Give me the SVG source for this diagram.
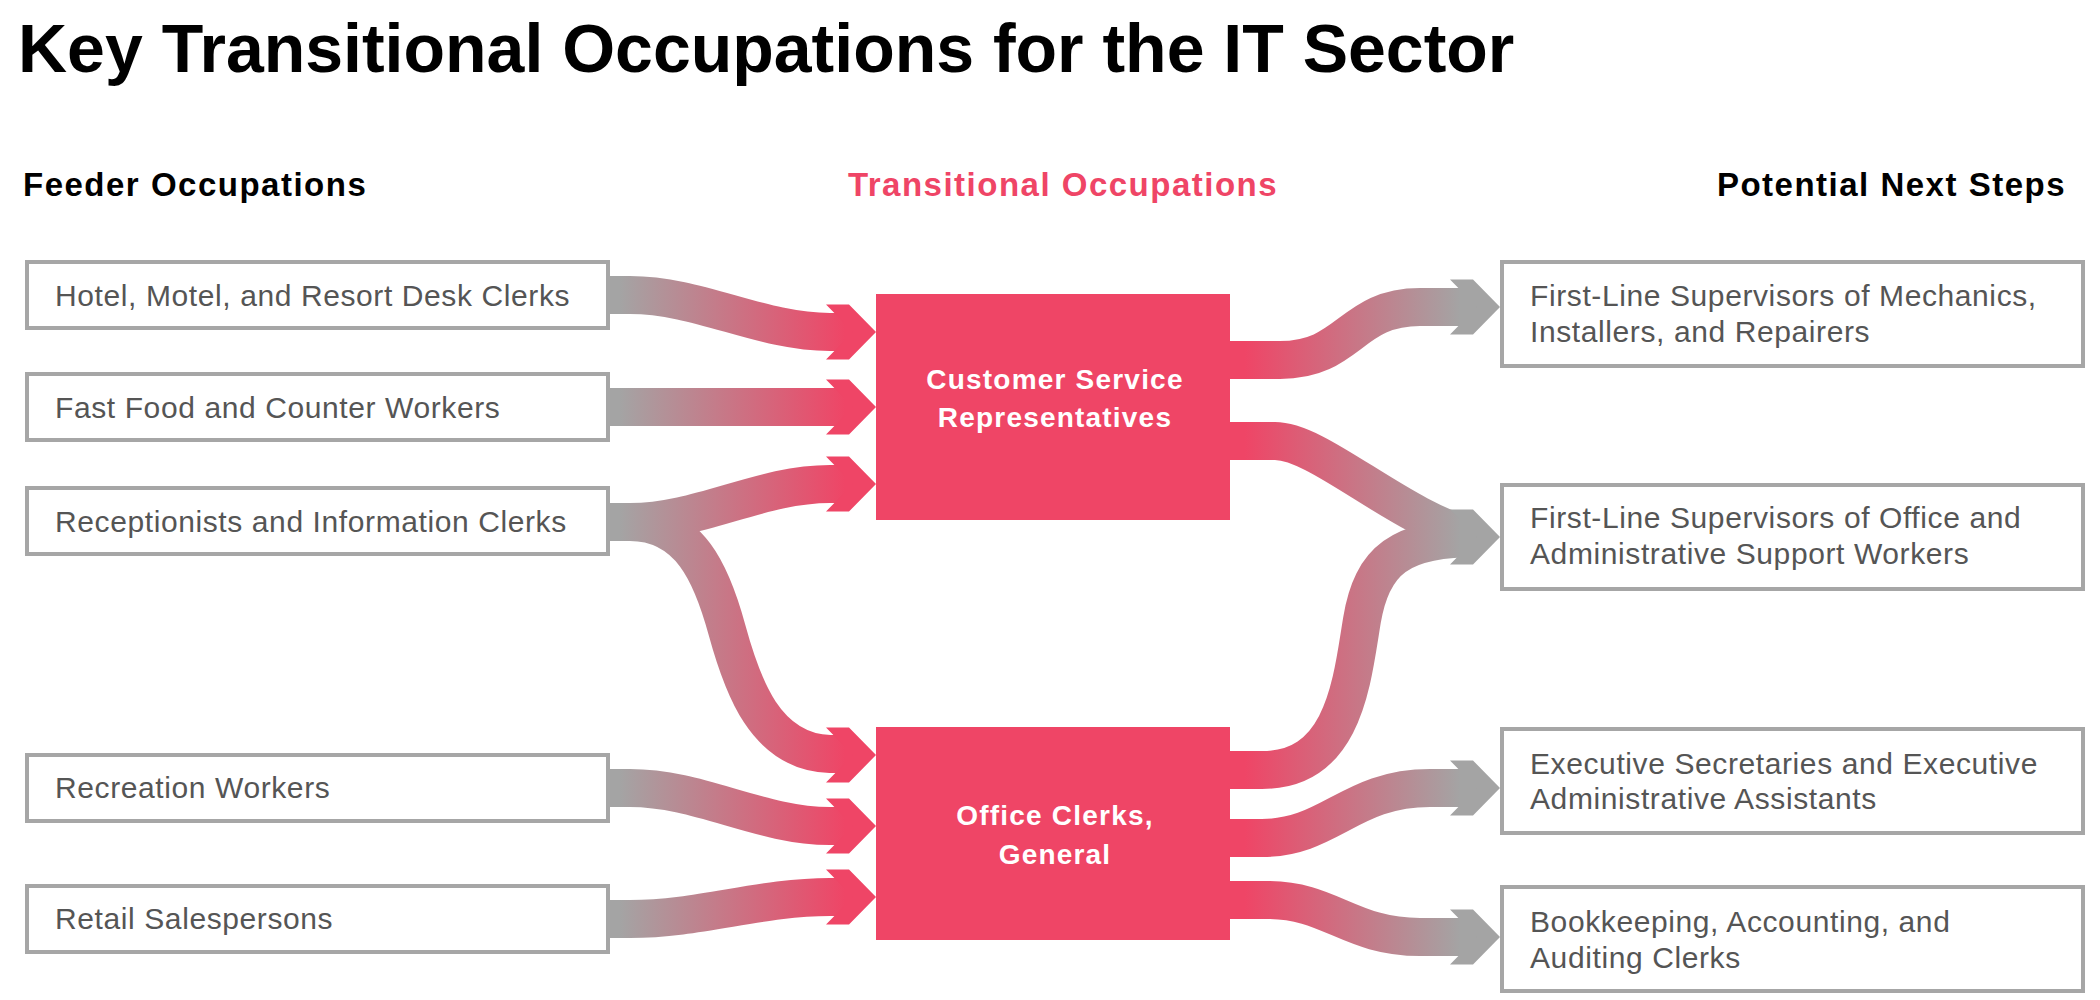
<svg xmlns="http://www.w3.org/2000/svg" width="2100" height="1000" viewBox="0 0 2100 1000">
  <style>
    .title{font-family:"Liberation Sans",Arial,sans-serif;font-weight:700;font-size:68px;fill:#000}
    .hdr{font-family:"Liberation Sans",Arial,sans-serif;font-weight:700;font-size:33px;letter-spacing:1.5px;fill:#000}
    .hdr-red{fill:#ef4566}
    .box{fill:#fff;stroke:#a6a6a6;stroke-width:4}
    .lbl{font-family:"Liberation Sans",Arial,sans-serif;font-size:30px;letter-spacing:0.6px;fill:#555}
    .core{fill:#ef4566}
    .core-lbl{font-family:"Liberation Sans",Arial,sans-serif;font-weight:700;font-size:28px;letter-spacing:1.2px;fill:#fff;text-anchor:middle}
    .band{fill:none;stroke-width:38;stroke-linecap:butt}
    .in{stroke:url(#gIn)}
    .out{stroke:url(#gOut)}
    .head-in{fill:#ef4566}
    .head-out{fill:#a4a4a4}
  </style>
  <defs>
    <linearGradient id="gIn" gradientUnits="userSpaceOnUse" x1="620" y1="0" x2="845" y2="0">
      <stop offset="0" stop-color="#a4a4a4"/>
      <stop offset="1" stop-color="#ef4566"/>
    </linearGradient>
    <linearGradient id="gOut" gradientUnits="userSpaceOnUse" x1="1245" y1="0" x2="1460" y2="0">
      <stop offset="0" stop-color="#ef4566"/>
      <stop offset="1" stop-color="#a4a4a4"/>
    </linearGradient>
    <path id="head" d="M-50,-27.5 H-27 L0,0 L-27,27.5 H-50 L-23,0 Z"/>
  </defs>

  <rect width="2100" height="1000" fill="#fff"/>

  <text class="title" x="18" y="72">Key Transitional Occupations for the IT Sector</text>

  <text class="hdr" x="23" y="196">Feeder Occupations</text>
  <text class="hdr hdr-red" x="1063" y="196" text-anchor="middle">Transitional Occupations</text>
  <text class="hdr" x="2066" y="196" text-anchor="end">Potential Next Steps</text>

  <g id="connectors">
    <path class="band in" d="M600,295 H630 C700,295 760,332 830,332 H854"/>
    <path class="band in" d="M600,407 H854"/>
    <path class="band in" d="M600,522 H630 C700,522 760,484 830,484 H854"/>
    <path class="band in" d="M600,522 H630 C690,522 712,575 727,630 C742,685 765,752 830,754 H854"/>
    <path class="band in" d="M600,788 H630 C700,788 760,826 830,826 H854"/>
    <path class="band in" d="M600,919 H630 C700,919 760,897 830,897 H854"/>
    <use href="#head" class="head-in" transform="translate(876,332)"/>
    <use href="#head" class="head-in" transform="translate(876,407)"/>
    <use href="#head" class="head-in" transform="translate(876,484)"/>
    <use href="#head" class="head-in" transform="translate(876,755)"/>
    <use href="#head" class="head-in" transform="translate(876,826)"/>
    <use href="#head" class="head-in" transform="translate(876,897)"/>

    <path class="band out" d="M1220,360 H1280 C1350,360 1350,307 1420,307 H1478"/>
    <path class="band out" d="M1220,441 H1275 C1320,441 1400,520 1478,539"/>
    <path class="band out" d="M1220,770 H1262 C1345,770 1352,680 1362,620 C1372,560 1400,538 1478,538"/>
    <path class="band out" d="M1220,838 H1262 C1330,838 1350,788 1430,788 H1478"/>
    <path class="band out" d="M1220,900 H1268 C1330,900 1350,937 1420,937 H1478"/>
    <use href="#head" class="head-out" transform="translate(1500,307)"/>
    <use href="#head" class="head-out" transform="translate(1500,537)"/>
    <use href="#head" class="head-out" transform="translate(1500,788)"/>
    <use href="#head" class="head-out" transform="translate(1500,937)"/>
  </g>

  <g id="feeder-hotel">
    <rect class="box" x="27" y="262" width="581" height="66"/>
    <text class="lbl" x="55" y="306">Hotel, Motel, and Resort Desk Clerks</text>
  </g>
  <g id="feeder-fastfood">
    <rect class="box" x="27" y="374" width="581" height="66"/>
    <text class="lbl" x="55" y="418">Fast Food and Counter Workers</text>
  </g>
  <g id="feeder-receptionists">
    <rect class="box" x="27" y="488" width="581" height="66"/>
    <text class="lbl" x="55" y="532">Receptionists and Information Clerks</text>
  </g>
  <g id="feeder-recreation">
    <rect class="box" x="27" y="755" width="581" height="66"/>
    <text class="lbl" x="55" y="798">Recreation Workers</text>
  </g>
  <g id="feeder-retail">
    <rect class="box" x="27" y="886" width="581" height="66"/>
    <text class="lbl" x="55" y="929">Retail Salespersons</text>
  </g>

  <g id="core-csr">
    <rect class="core" x="876" y="294" width="354" height="226"/>
    <text class="core-lbl" x="1055" y="389">Customer Service</text>
    <text class="core-lbl" x="1055" y="427">Representatives</text>
  </g>
  <g id="core-office">
    <rect class="core" x="876" y="727" width="354" height="213"/>
    <text class="core-lbl" x="1055" y="825">Office Clerks,</text>
    <text class="core-lbl" x="1055" y="864">General</text>
  </g>

  <g id="next-mechanics">
    <rect class="box" x="1502" y="262" width="581" height="104"/>
    <text class="lbl" x="1530" y="306">First-Line Supervisors of Mechanics,</text>
    <text class="lbl" x="1530" y="342">Installers, and Repairers</text>
  </g>
  <g id="next-office">
    <rect class="box" x="1502" y="485" width="581" height="104"/>
    <text class="lbl" x="1530" y="528">First-Line Supervisors of Office and</text>
    <text class="lbl" x="1530" y="564">Administrative Support Workers</text>
  </g>
  <g id="next-executive">
    <rect class="box" x="1502" y="729" width="581" height="104"/>
    <text class="lbl" x="1530" y="774">Executive Secretaries and Executive</text>
    <text class="lbl" x="1530" y="809">Administrative Assistants</text>
  </g>
  <g id="next-bookkeeping">
    <rect class="box" x="1502" y="887" width="581" height="104"/>
    <text class="lbl" x="1530" y="932">Bookkeeping, Accounting, and</text>
    <text class="lbl" x="1530" y="968">Auditing Clerks</text>
  </g>
</svg>
